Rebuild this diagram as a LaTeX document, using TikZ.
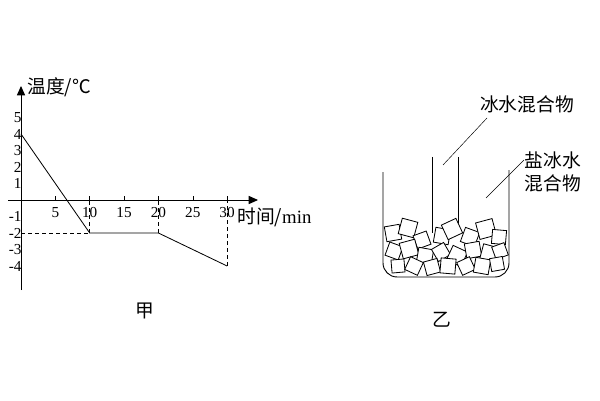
\documentclass[tikz,border=0pt]{standalone}
\usepackage{fontspec}
\setmainfont{Liberation Serif}
\newfontfamily\cjk{Noto Sans CJK SC}
\usetikzlibrary{arrows.meta}
\tikzset{
  axis/.style={thick, -{Triangle[length=8pt,width=7pt]}},
  curve/.style={line width=0.7pt},
  guide/.style={dashed, line width=0.7pt},
  tick/.style={font=\fontsize{13}{13}\selectfont, inner sep=1pt},
  cube/.style={draw, fill=white, line width=0.7pt},
  wall/.style={line width=0.8pt},
  label/.style={font=\cjk\fontsize{16}{20}\selectfont, inner sep=1pt}
}
\begin{document}
\begin{tikzpicture}[x=0.03cm, y=-0.03cm]
\useasboundingbox (0,0) rectangle (600,400);
\def \ox {21}
\def \oy {200}
\def \dx {6.87}
\def \dy {16.5}

%axes
\draw[axis] (\ox,290) -- (\ox,86) coordinate (ytop);
\draw[axis] (8,\oy) -- (258,\oy) coordinate (xend);
\node[label, anchor=west] (ylab) at (26,87) {温度/℃};
\node[label, anchor=west] (xlab) at (236,217) {时间/\rmfamily min};

%ticks
\foreach \t in {5,10,...,30}
  \draw[thin] ({\ox+\t*\dx},\oy) -- ({\ox+\t*\dx},{\oy-4});
\foreach \t in {5,10,...,30}
  \node[tick] (t\t) at ({\ox+\t*\dx},{\oy+13}) {\t};
\foreach \v in {-4,...,-1,1,2,...,5}
  \node[tick, anchor=east] (v\v) at ({\ox+2},{\oy-\v*\dy}) {\v};

%curve
\coordinate (p0) at (\ox,{\oy-4*\dy});
\coordinate (p1) at ({\ox+10*\dx},{\oy+2*\dy});
\coordinate (p2) at ({\ox+20*\dx},{\oy+2*\dy});
\coordinate (p3) at ({\ox+30*\dx},{\oy+4*\dy});
\draw[curve] (p0) -- (p1) -- (p2) -- (p3);
\draw[guide] (\ox,{\oy+2*\dy}) -- (p1) (p1) -- ({\ox+10*\dx},\oy);
\draw[guide] (p2) -- ({\ox+20*\dx},\oy);
\draw[guide] (p3) -- ({\ox+30*\dx},\oy);
\node[label] (jia) at (145,311) {甲};

%beaker
\draw[wall, rounded corners=12] (383,172) -- (383,277) -- (509,277) -- (509,170);
\draw[wall] (432,157) -- (432,233);
\draw[wall] (458,157) -- (458,233);

%ice
\foreach \x/\y/\a/\s in {
 393/233/10/15, 408/228/-15/16, 422/240/20/14, 442/236/-10/15, 452/229/25/16,
 470/237/-20/15, 486/229/15/17, 499/237/-5/14, 394/251/-20/14, 409/249/15/16,
 425/256/-10/15, 441/252/30/14, 457/256/-25/16, 473/250/10/15, 489/253/-15/15,
 500/251/20/13, 398/266/5/13, 414/266/-25/14, 432/267/15/14, 448/266/-5/15,
 466/266/25/14, 482/266/-10/15, 497/264/10/13}
  \node[cube, minimum size=\s*0.03cm, rotate=\a, inner sep=0pt] at (\x,\y) {};

%labels
\node[label] (mixA) at (527,104) {冰水混合物};
\node[label, align=center] (mixB) at (553,172) {盐冰水\\混合物};
\coordinate (tipA) at (443,165);
\coordinate (tipB) at (486,198);
\draw[thin] (tipA) -- (487,118);
\draw[thin] (tipB) -- (524,160);
\node[label] (yi) at (442,320) {乙};
\end{tikzpicture}
\end{document}
